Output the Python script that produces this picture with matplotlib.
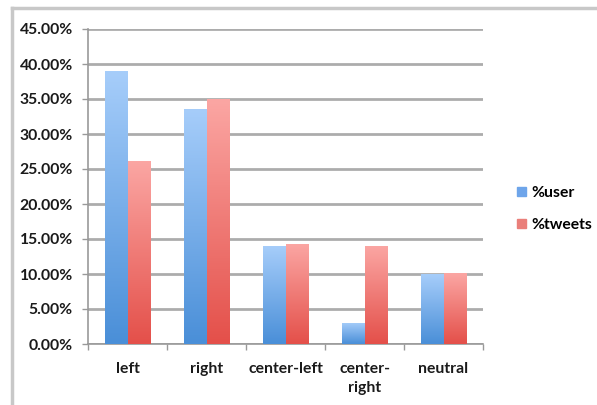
import numpy as np
import matplotlib.pyplot as plt
from matplotlib.colors import LinearSegmentedColormap
from matplotlib.lines import Line2D
from matplotlib.ticker import FuncFormatter, MultipleLocator

plt.rcParams['font.family'] = ['Lato', 'DejaVu Sans']

categories = ['left', 'right', 'center-left', 'center-\nright', 'neutral']
pct_user = [39.0, 33.6, 14.05, 3.05, 9.95]
pct_tweets = [26.1, 35.0, 14.3, 14.05, 10.1]
series_names = ['%user', '%tweets']

W, H = 597, 405
fig = plt.figure(figsize=(W / 100, H / 100), dpi=100)
ax = fig.add_axes([88 / W, 1 - 344 / H, (483 - 88) / W, (344 - 29) / H])

# outer frame (top and left edges only)
fig.add_artist(Line2D([12 / W, 1], [1 - 8 / H, 1 - 8 / H], transform=fig.transFigure,
                      color='#c8c8c8', lw=2.5))
fig.add_artist(Line2D([12 / W, 12 / W], [0, 1 - 8 / H], transform=fig.transFigure,
                      color='#c8c8c8', lw=2.5))

x = np.arange(len(categories))
bw = 0.285
blue_cmap = LinearSegmentedColormap.from_list('b', ['#a6cdfa', '#4a8fd8'])
red_cmap = LinearSegmentedColormap.from_list('r', ['#fba6a3', '#e4504a'])

bars_u = ax.bar(x - bw / 2, pct_user, bw, color='#79aef0', zorder=2)
bars_t = ax.bar(x + bw / 2, pct_tweets, bw, color='#f07f7a', zorder=2)

grad = np.linspace(0, 1, 100).reshape(-1, 1)
for bars, cmap in ((bars_u, blue_cmap), (bars_t, red_cmap)):
    for b in bars:
        x0, y0 = b.get_x(), b.get_y()
        w, h = b.get_width(), b.get_height()
        im = ax.imshow(grad, cmap=cmap, aspect='auto', origin='upper',
                       extent=(x0, x0 + w, y0, y0 + h), zorder=3)
        im.set_clip_path(b)
        b.set_alpha(0)

ax.set_xlim(-0.5, len(categories) - 0.5)
ax.set_ylim(0, 45)
ax.yaxis.set_major_locator(MultipleLocator(5))
ax.yaxis.set_major_formatter(FuncFormatter(lambda v, p: f'{v:.2f}%'))
ax.grid(axis='y', color='#acacac', lw=2, zorder=1)
ax.set_axisbelow(True)

fs = 11.3
ax.set_xticks(x)
ax.set_xticklabels(categories, linespacing=1.45)
ax.set_xticks(np.arange(len(categories) + 1) - 0.5, minor=True)
ax.tick_params(axis='x', which='major', length=0, pad=13, labelsize=fs)
ax.tick_params(axis='x', which='minor', length=4, color='#999999', width=1)
ax.tick_params(axis='y', length=4, color='#999999', width=1, labelsize=fs, pad=7)
for lab in ax.get_xticklabels() + ax.get_yticklabels():
    lab.set_fontweight('bold')
    lab.set_color('#1a1a1a')

for s in ('top', 'right'):
    ax.spines[s].set_visible(False)
for s in ('left', 'bottom'):
    ax.spines[s].set_color('#999999')
    ax.spines[s].set_linewidth(1.2)

handles = [plt.Rectangle((0, 0), 1, 1, color='#6ea5ea'),
           plt.Rectangle((0, 0), 1, 1, color='#ea7f7a')]
fig.legend(handles, series_names, loc='center left', bbox_to_anchor=(503 / W, 1 - 209 / H),
           frameon=False, handlelength=0.55, handleheight=0.55, handletextpad=0.35,
           labelspacing=1.15, prop={'size': fs, 'weight': 'bold'})

fig.savefig('out.png', dpi=100)
